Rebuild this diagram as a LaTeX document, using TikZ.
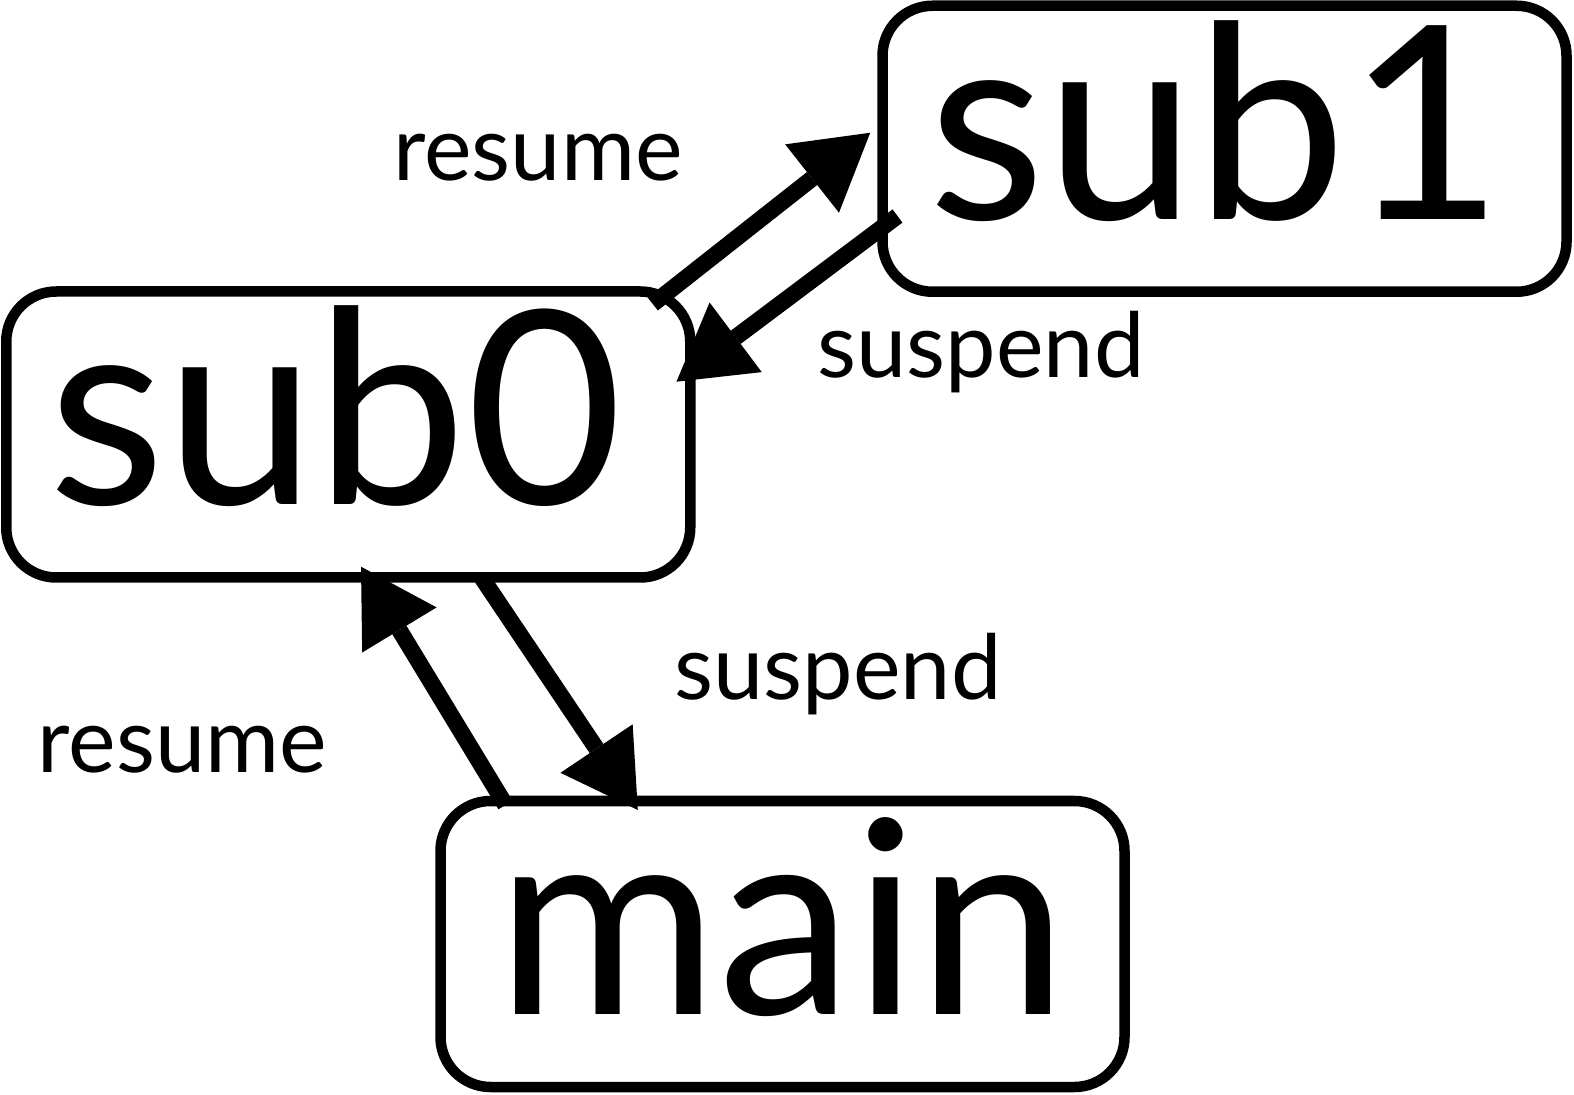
\documentclass[tikz,border=0pt]{standalone}
\usepackage{fontspec}
\setmainfont{Lato}
\usetikzlibrary{arrows.meta}
\begin{document}
\begin{tikzpicture}[x=0.5pt,y=-0.5pt,
  box/.style={draw, line width=5.25pt, rounded corners=25pt, minimum width=342pt, minimum height=143pt, inner sep=0pt, outer sep=0pt, font=\fontsize{135}{140}\selectfont, text height=70.5pt, text depth=0pt},
  edge/.style={line width=8.25pt, -{Triangle[length=37pt,width=43.5pt,line width=0pt]}},
  lbl/.style={font=\fontsize{45}{50}\selectfont, anchor=base, inner sep=0pt}]
\useasboundingbox (0,0) rectangle (1574,1095);
\node[box] (sub0) at (348.25,434.5) {sub0\kern12.5pt};
\node[box] (sub1) at (1224.5,148.75) {sub1\kern8.5pt};
\node[box] (main) at (782.5,944) {main};
\draw[edge] ([shift={(-37.5,12.5)}]sub0.north east) -- ([shift={(-12.3,-16)}]sub1.west);
\draw[edge] ([shift={(15,67.25)}]sub1.west) -- ([shift={(-13.8,90.2)}]sub0.north east);
\draw[edge] ([shift={(65,4)}]main.north west) -- ([shift={(12.75,-10.8)}]sub0.south);
\draw[edge] ([shift={(133.75,0.5)}]sub0.south) -- ([shift={(197.3,9)}]main.north west);
\node[lbl] (l1) at (538,181) {resume};
\node[lbl] (l2) at (981,378) {suspend};
\node[lbl] (l3) at (838,700) {suspend};
\node[lbl] (l4) at (182.5,773) {resume};
\end{tikzpicture}
\end{document}
